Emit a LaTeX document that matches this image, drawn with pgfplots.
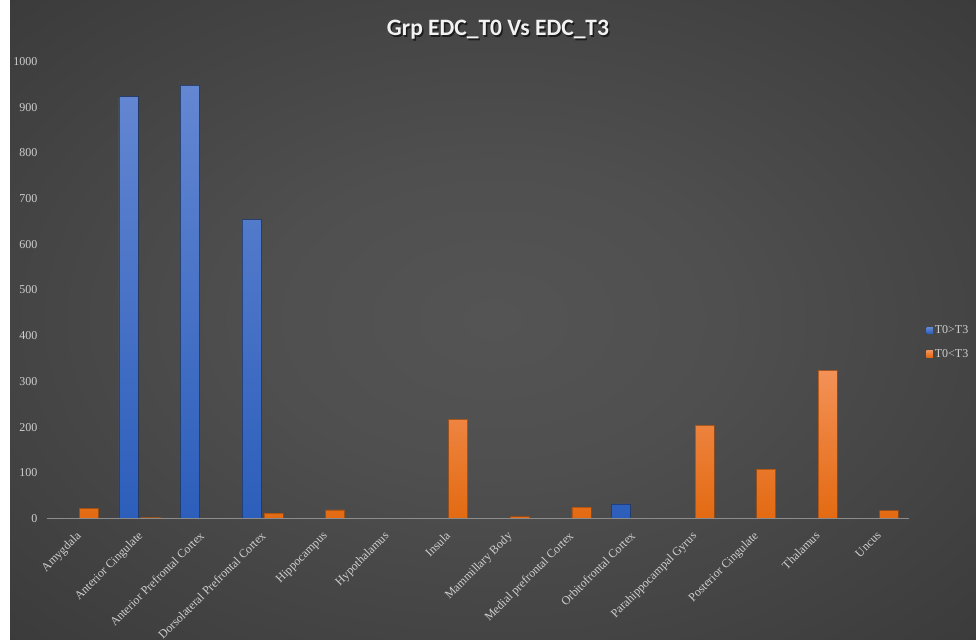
\documentclass[border=0pt]{standalone}
\usepackage{pgfplots}
\pgfplotsset{compat=1.18}
\usepackage{fontspec}
\setmainfont{Liberation Serif}
\newfontfamily\titlefont{Carlito}
\definecolor{bluetop}{HTML}{6487D2}
\definecolor{bluebot}{HTML}{2C5EBB}
\definecolor{orgtop}{HTML}{F39157}
\definecolor{orgbot}{HTML}{E36A12}
\definecolor{ticktext}{HTML}{CFCFCF}
\definecolor{axisline}{HTML}{8C8C8C}
\pgfdeclareradialshading{bgshade}{\pgfpoint{0bp}{0bp}}{%
  color(0bp)=(black!67!white);
  color(12bp)=(black!69!white);
  color(48bp)=(black!81!white);
  color(72bp)=(black!86!white)}
\begin{document}
\begin{tikzpicture}[x=1pt,y=1pt]
\fill[white] (0,0) rectangle (976,639);
\shade[shading=bgshade] (10,0) rectangle (976,639);
\node[text=black, opacity=0.6, font=\titlefont\bfseries\fontsize{23.5}{26}\selectfont] at (499.5,607.5) {Grp EDC\_T0 Vs EDC\_T3};
\node[text=white!95!black, font=\titlefont\bfseries\fontsize{23.5}{26}\selectfont] at (498,609) {Grp EDC\_T0 Vs EDC\_T3};
\begin{axis}[
  at={(47pt,120.5pt)}, anchor=south west,
  scale only axis, width=862pt, height=457pt,
  ymin=0, ymax=1000, xmin=-0.5, xmax=13.5,
  ytick={0,100,...,1000},
  xtick={0,...,13},
  xticklabels={Amygdala, Anterior Cingulate, Anterior Prefrontal Cortex, Dorsolateral Prefrontal Cortex, Hippocampus, Hypothalamus, Insula, Mammillary Body, Medial prefrontal Cortex, Orbitofrontal Cortex, Parahippocampal Gyrus, Posterior Cingulate, Thalamus, Uncus},
  major tick length=0pt,
  axis line style={draw=none},
  axis x line*=bottom, axis y line*=left,
  /pgf/number format/assume math mode=true,
  /pgf/number format/1000 sep={},
  yticklabel style={font=\fontsize{12}{14}\selectfont, text=ticktext, anchor=east, xshift=-6pt},
  xticklabel style={font=\fontsize{12}{14}\selectfont, text=ticktext, rotate=45, anchor=north east, inner sep=1pt, yshift=-6pt, xshift=-9pt},
  ybar=3pt, bar width=19pt,
  legend style={at={(1.02,0.386)}, anchor=west, draw=none, fill=none, text=ticktext, font=\fontsize{12}{14}\selectfont, row sep=10pt, inner sep=0pt},
  legend cell align=left,
  legend image code/.code={\fill[#1, draw=none] (0pt,-3.2pt) rectangle (6.4pt,3.2pt);},
  clip=false,
]
\addplot[draw=black!45!bluebot, draw opacity=0.7, line width=0.5pt, top color=bluetop, bottom color=bluebot] coordinates {
(0,0) (1,923) (2,948) (3,654) (4,0) (5,0) (6,0) (7,0) (8,0) (9,32) (10,0) (11,0) (12,0) (13,0)};
\addlegendentry{T0>T3}
\addplot[draw=black!30!orgbot, draw opacity=0.7, line width=0.5pt, top color=orgtop, bottom color=orgbot] coordinates {
(0,22) (1,2) (2,0) (3,12) (4,19) (5,1) (6,217) (7,4) (8,25) (9,1) (10,204) (11,108) (12,324) (13,17)};
\addlegendentry{T0<T3}
\draw[axisline, line width=1.2pt] (axis cs:-0.5,0) -- (axis cs:13.5,0);
\end{axis}
\end{tikzpicture}
\end{document}
